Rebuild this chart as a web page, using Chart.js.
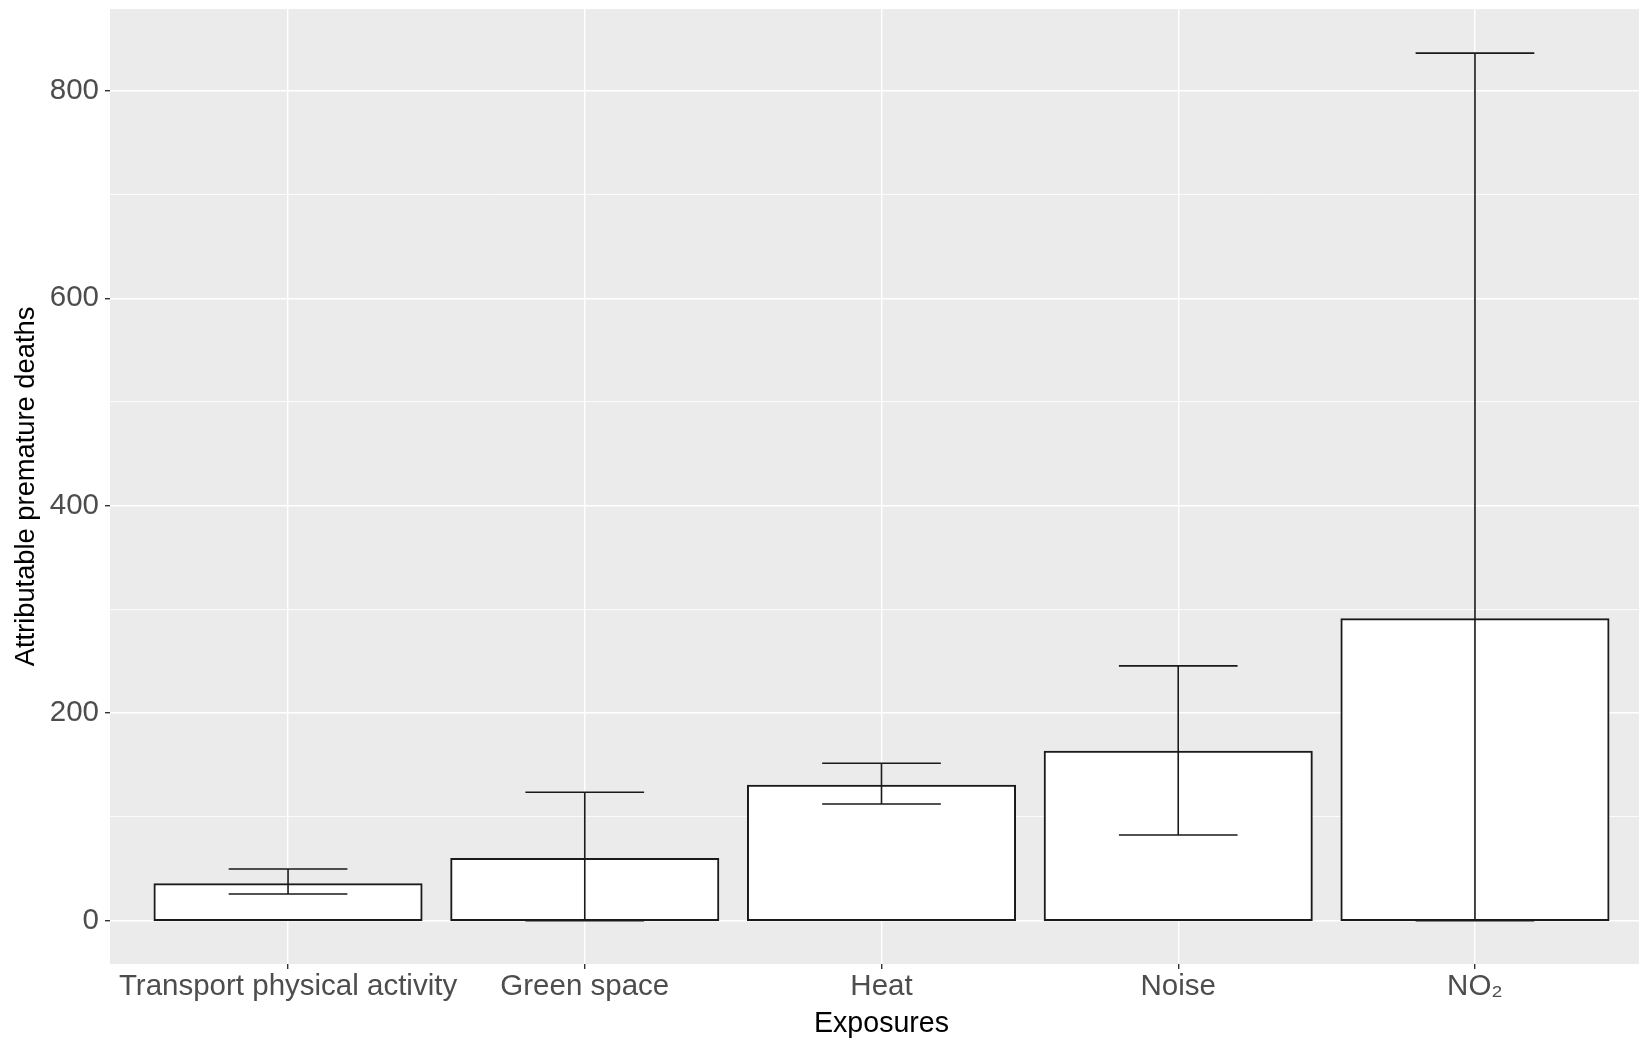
<!DOCTYPE html>
<html>
<head>
<meta charset="utf-8">
<script src="https://cdn.jsdelivr.net/npm/chart.js@4"></script>
<style>
  html, body { margin: 0; background: #fff; overflow: hidden; }
  canvas { display: block; }
</style>
</head>
<body>
<!-- the panel runs past the right edge of the picture, like the original -->
<canvas id="chart" width="1653" height="1040"></canvas>
<script>
// attributable premature deaths by exposure, with error bars

const exposures = ['Transport physical activity', 'Green space', 'Heat', 'Noise', 'NO\u2082'];
const deaths = [35.1, 59.5, 130.1, 162.9, 290.5];
const lowerCI = [25.7, 0, 112.5, 82.6, 0];
const upperCI = [49.8, 123.7, 151.7, 245.6, 836.3];
const yTicks = [0, 100, 200, 300, 400, 500, 600, 700, 800];
const yLabels = [0, 200, 400, 600, 800];

const font = "'Liberation Sans', Arial, sans-serif";

const panelBg = {
    id: 'panelBg',
    beforeDraw(chart) {
        const a = chart.chartArea;
        const ctx = chart.ctx;
        ctx.save();
        ctx.fillStyle = '#EBEBEB';
        ctx.fillRect(a.left, a.top, a.right - a.left, a.bottom - a.top);
        ctx.restore();
    }
};

const errorBars = {
    id: 'errorBars',
    afterDatasetsDraw(chart) {
        const x = chart.scales.x, y = chart.scales.y;
        const ctx = chart.ctx;
        ctx.save();
        ctx.strokeStyle = '#1a1a1a';
        ctx.lineWidth = 1.6;
        for (let i = 0; i < exposures.length; i++) {
            const xc = x.getPixelForValue(i);
            const xl = x.getPixelForValue(i - 0.2);
            const xr = x.getPixelForValue(i + 0.2);
            const yl = y.getPixelForValue(lowerCI[i]);
            const yu = y.getPixelForValue(upperCI[i]);
            ctx.beginPath();
            ctx.moveTo(xc, yl); ctx.lineTo(xc, yu);
            ctx.moveTo(xl, yu); ctx.lineTo(xr, yu);
            ctx.moveTo(xl, yl); ctx.lineTo(xr, yl);
            ctx.stroke();
        }
        ctx.restore();
    }
};

new Chart(document.getElementById('chart'), {
    type: 'bar',
    data: {
        datasets: [{
            data: deaths.map((v, i) => ({ x: i, y: v })),
            backgroundColor: '#ffffff',
            borderColor: '#1a1a1a',
            borderWidth: 2,
            borderSkipped: false,
            inflateAmount: 1,
            categoryPercentage: 1,
            barPercentage: 0.9
        }]
    },
    options: {
        responsive: false,
        animation: false,
        layout: { padding: { top: 9, left: 0, right: 0, bottom: 0 } },
        plugins: { legend: { display: false }, tooltip: { enabled: false } },
        scales: {
            x: {
                type: 'linear',
                min: -0.6,
                max: 4.6,
                offset: false,
                afterBuildTicks: (s) => { s.ticks = exposures.map((c, i) => ({ value: i })); },
                afterFit: (s) => { s.height = 76; s.paddingLeft = 0; s.paddingRight = 0; },
                grid: { offset: false, color: '#ffffff', lineWidth: 1.4, tickColor: '#333333', tickLength: 5 },
                border: { display: false },
                ticks: {
                    autoSkip: false, maxRotation: 0, padding: 0,
                    color: '#4D4D4D', font: { family: font, size: 29.5 },
                    callback: (v) => exposures[v]
                },
                title: {
                    display: true, text: 'Exposures', color: '#000000',
                    font: { family: font, size: 28.6, lineHeight: 1.1 },
                    padding: { top: 0, bottom: 0 }
                }
            },
            y: {
                min: -41.8,
                max: 878.8,
                afterBuildTicks: (s) => { s.ticks = yTicks.map(v => ({ value: v })); },
                afterFit: (s) => { s.width = 110; s.paddingTop = 0; s.paddingBottom = 0; },
                grid: {
                    color: '#ffffff',
                    lineWidth: (c) => yLabels.includes(c.tick && c.tick.value) ? 1.4 : 0.8,
                    tickColor: (c) => yLabels.includes(c.tick && c.tick.value) ? '#333333' : 'rgba(0,0,0,0)',
                    tickLength: 5
                },
                border: { display: false },
                ticks: {
                    autoSkip: false, padding: 6,
                    color: '#4D4D4D', font: { family: font, size: 29.5 },
                    callback: (v) => yLabels.includes(v) ? String(v) : ''
                },
                title: {
                    display: true, text: 'Attributable premature deaths', color: '#000000',
                    font: { family: font, size: 27.3 },
                    padding: { top: 10, bottom: 0 }
                }
            }
        }
    },
    plugins: [panelBg, errorBars]
});
</script>
</body>
</html>
